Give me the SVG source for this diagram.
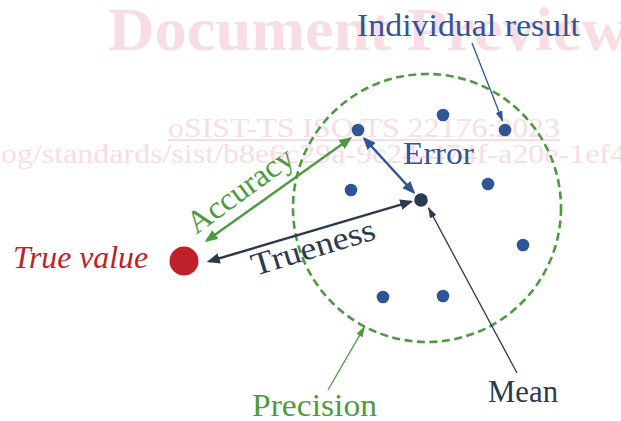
<svg xmlns="http://www.w3.org/2000/svg" width="621" height="421" viewBox="0 0 621 421">
<style>
  .wm { font-family: "Liberation Serif", serif; fill: #f9dde5; }
  .lbl { font-family: "Liberation Serif", "DejaVu Serif", serif; font-size: 32px; }
  .blue { fill: #2f5597; }
  .navy { fill: #2b3a4f; }
  .green { fill: #4e9b3f; }
  .red { fill: #c0202a; }
</style>
<defs>
  <marker id="hg" markerUnits="userSpaceOnUse" markerWidth="13" markerHeight="11" refX="10" refY="5" orient="auto-start-reverse" viewBox="0 0 12 10">
    <path d="M0,0 L12,5 L0,10 z" fill="#4e9b3f"/>
  </marker>
  <marker id="hb" markerUnits="userSpaceOnUse" markerWidth="13" markerHeight="11" refX="10" refY="5" orient="auto-start-reverse" viewBox="0 0 12 10">
    <path d="M0,0 L12,5 L0,10 z" fill="#2f5597"/>
  </marker>
  <marker id="hn" markerUnits="userSpaceOnUse" markerWidth="13" markerHeight="11" refX="10" refY="5" orient="auto-start-reverse" viewBox="0 0 12 10">
    <path d="M0,0 L12,5 L0,10 z" fill="#2b3a4f"/>
  </marker>
  <marker id="tb" markerUnits="userSpaceOnUse" markerWidth="11" markerHeight="8" refX="10" refY="3.5" orient="auto" viewBox="0 0 11 7">
    <path d="M0,0 L11,3.5 L0,7 z" fill="#2f5597"/>
  </marker>
  <marker id="tn" markerUnits="userSpaceOnUse" markerWidth="11" markerHeight="8" refX="10" refY="3.5" orient="auto" viewBox="0 0 11 7">
    <path d="M0,0 L11,3.5 L0,7 z" fill="#2b3a4f"/>
  </marker>
  <marker id="tg" markerUnits="userSpaceOnUse" markerWidth="11" markerHeight="8" refX="10" refY="3.5" orient="auto" viewBox="0 0 11 7">
    <path d="M0,0 L11,3.5 L0,7 z" fill="#4e9b3f"/>
  </marker>
</defs>

<g id="watermark">
  <text class="wm" x="108" y="50" font-size="62" font-weight="bold" textLength="520" lengthAdjust="spacingAndGlyphs">Document Preview</text>
  <text class="wm" x="168" y="137" font-size="28" textLength="392" lengthAdjust="spacingAndGlyphs">oSIST-TS ISO/TS 22176:2023</text>
  <rect x="168" y="139" width="392" height="2" fill="#f9dde5"/>
  <text class="wm" x="1" y="163" font-size="28" textLength="625" lengthAdjust="spacingAndGlyphs">og/standards/sist/b8e6c29a-9c24-474f-a20e-1ef4</text>
</g>

<g id="precision-circle">
  <circle cx="427" cy="208" r="134" fill="none" stroke="#4e9b3f" stroke-width="2.6" stroke-dasharray="8,4.5"/>
</g>

<g id="connectors" fill="none">
  <line x1="206.6" y1="240.8" x2="350.4" y2="138.2" stroke="#4e9b3f" stroke-width="2.5" marker-start="url(#hg)" marker-end="url(#hg)"/>
  <line x1="364.3" y1="138.5" x2="413.7" y2="192.5" stroke="#2f5597" stroke-width="2.5" marker-start="url(#hb)" marker-end="url(#hb)"/>
  <line x1="208.9" y1="261.4" x2="411.1" y2="201.6" stroke="#2b3a4f" stroke-width="2.5" marker-start="url(#hn)" marker-end="url(#hn)"/>
  <line x1="472" y1="43" x2="502.6" y2="121.1" stroke="#2f5597" stroke-width="1.3" marker-end="url(#tb)"/>
  <line x1="517" y1="373" x2="428.5" y2="207.9" stroke="#2b3a4f" stroke-width="1.3" marker-end="url(#tn)"/>
  <line x1="328" y1="390" x2="364.5" y2="326.9" stroke="#4e9b3f" stroke-width="1.3" marker-end="url(#tg)"/>
</g>

<g id="true-value">
  <circle cx="184" cy="261" r="14.5" fill="#c0202a"/>
  <text class="lbl red" x="13" y="268" font-size="31" font-style="italic" textLength="135" lengthAdjust="spacingAndGlyphs">True value</text>
</g>

<g id="results" class="blue">
  <circle cx="358" cy="130" r="6.3"/>
  <circle cx="443" cy="115" r="6.3"/>
  <circle cx="505" cy="130" r="6.3"/>
  <circle cx="351" cy="190" r="6.3"/>
  <circle cx="488" cy="184" r="6.3"/>
  <circle cx="523" cy="245" r="6.3"/>
  <circle cx="383" cy="297" r="6.3"/>
  <circle cx="443" cy="296" r="6.3"/>
</g>

<g id="mean">
  <circle cx="421" cy="200" r="6.8" fill="#2b3a4f"/>
</g>

<g id="label-individual">
  <text class="lbl blue" x="357" y="36" textLength="223" lengthAdjust="spacingAndGlyphs">Individual result</text>
</g>
<g id="label-error">
  <text class="lbl blue" x="403" y="164" textLength="71" lengthAdjust="spacingAndGlyphs">Error</text>
</g>
<g id="label-accuracy">
  <text class="lbl green" transform="translate(196,235) rotate(-36)" textLength="124" lengthAdjust="spacingAndGlyphs">Accuracy</text>
</g>
<g id="label-trueness">
  <text class="lbl navy" transform="translate(255,276) rotate(-17)" textLength="128" lengthAdjust="spacingAndGlyphs">Trueness</text>
</g>
<g id="label-mean">
  <text class="lbl navy" x="488" y="402" textLength="70" lengthAdjust="spacingAndGlyphs">Mean</text>
</g>
<g id="label-precision">
  <text class="lbl green" x="252" y="416" textLength="125" lengthAdjust="spacingAndGlyphs">Precision</text>
</g>
</svg>
